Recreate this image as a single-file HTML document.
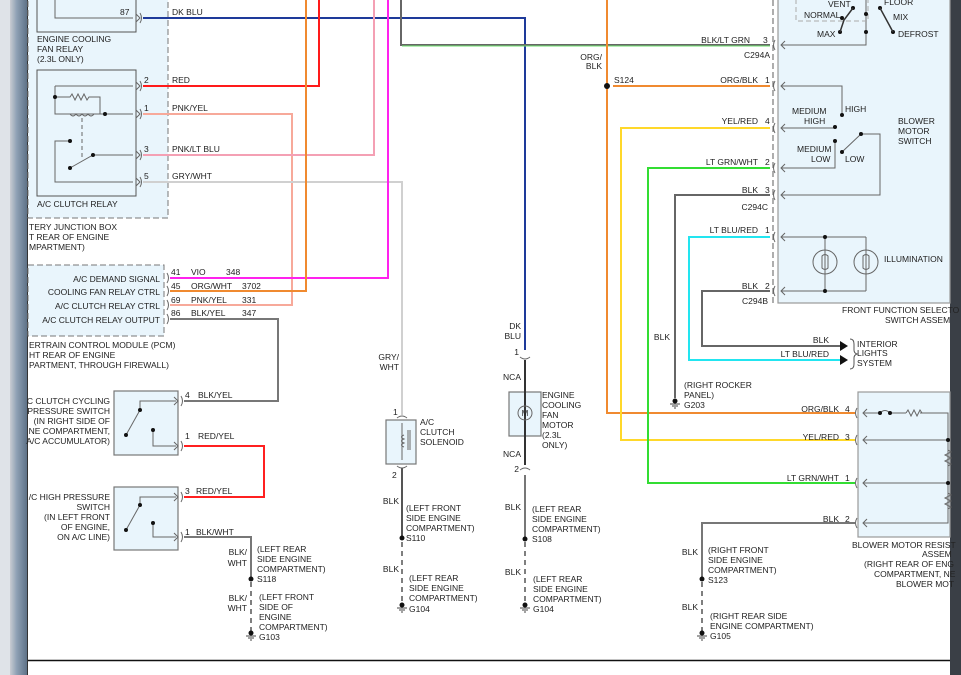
<!DOCTYPE html>
<html><head><meta charset="utf-8"><style>
html,body{margin:0;padding:0;background:#fff;}
svg{display:block;font-family:"Liberation Sans",Arial,sans-serif;font-size:8.5px;}
text{fill:#222;}
</style></head><body>
<svg width="961" height="675" viewBox="0 0 961 675" xmlns="http://www.w3.org/2000/svg">
<defs>
<linearGradient id="lb" x1="0" x2="1"><stop offset="0" stop-color="#c8ccd2"/><stop offset="0.4" stop-color="#8ea0b4"/><stop offset="1" stop-color="#5e7288"/></linearGradient>
</defs>
<rect width="961" height="675" fill="#fff"/>
<rect x="0" y="0" width="12" height="675" fill="#dfe3e8"/>
<rect x="10" y="0" width="17" height="675" fill="url(#lb)"/>
<line x1="27.5" y1="0" x2="27.5" y2="675" stroke="#333" stroke-width="1"/>
<rect x="950" y="0" width="11" height="675" fill="#3a3f46"/>
<line x1="28" y1="660.5" x2="950" y2="660.5" stroke="#111" stroke-width="1.5"/>

<rect x="28" y="-2" width="140" height="220" fill="#e9f5fc" stroke="#777" stroke-dasharray="6,3"/>
<rect x="37" y="-2" width="99" height="34" fill="#e9f5fc" stroke="#555"/>
<rect x="37" y="70" width="99" height="126" fill="#e9f5fc" stroke="#555"/>
<rect x="28" y="265" width="136" height="71" fill="#e9f5fc" stroke="#777" stroke-dasharray="6,3"/>
<rect x="114" y="391" width="64" height="64" fill="#e9f5fc" stroke="#777" stroke-width="1.2"/>
<rect x="114" y="487" width="64" height="63" fill="#e9f5fc" stroke="#777" stroke-width="1.2"/>
<rect x="386" y="420" width="30" height="44" fill="#e9f5fc" stroke="#777" stroke-width="1.2"/>
<rect x="509" y="392" width="32" height="44" fill="#e9f5fc" stroke="#777" stroke-width="1.2"/>
<rect x="778" y="-2" width="172" height="305" fill="#e9f5fc" stroke="#999" stroke-width="1.2"/>
<rect x="858" y="392" width="92" height="145" fill="#e9f5fc" stroke="#999" stroke-width="1.2"/>
<line x1="773" y1="0" x2="773" y2="303" stroke="#777" stroke-dasharray="6,3" stroke-width="1.2"/>

<g fill="none" stroke-width="2">
<polyline points="143,18 525,18 525,350" stroke="#1e3a9a"/>
<polyline points="143,86 319,86 319,0" stroke="#ff1a1a"/>
<polyline points="143,114 292,114 292,305 170,305" stroke="#f7a99a"/>
<polyline points="143,155 374,155 374,0" stroke="#f4a0b4"/>
<polyline points="143,182 402,182 402,415" stroke="#d0d0d0"/>
<polyline points="170,278 388,278 388,0" stroke="#ff22ee"/>
<polyline points="170,291 306,291 306,0" stroke="#f08a30"/>
<polyline points="170,319 278,319 278,401 184,401" stroke="#777"/>
<polyline points="184,446 264,446 264,497 184,497" stroke="#ff2020"/>
<polyline points="184,537 251,537 251,579" stroke="#777"/>
<polyline points="401,0 401,45 770,45" stroke="#666"/>
<polyline points="402,46 770,46" stroke="#6de36d" stroke-width="1"/>
<polyline points="607,0 607,413 855,413" stroke="#f08a30"/>
<polyline points="613,86 770,86" stroke="#f08a30"/>
<polyline points="770,128 621,128 621,440 855,440" stroke="#ffd82a"/>
<polyline points="770,168 648,168 648,483 855,483" stroke="#33dd33"/>
<polyline points="770,195 675,195 675,398" stroke="#666"/>
<polyline points="770,237 689,237 689,360 840,360" stroke="#22e5f0"/>
<polyline points="770,291 702,291 702,346 840,346" stroke="#666"/>
<polyline points="855,523 702,523 702,580" stroke="#777"/>
<line x1="525" y1="360" x2="525" y2="465" stroke="#333"/>
<line x1="525" y1="475" x2="525" y2="540" stroke="#777"/>
<line x1="402" y1="468" x2="402" y2="540" stroke="#555"/>
</g>
<g fill="none" stroke="#555" stroke-width="1.5" stroke-dasharray="5,4">
<line x1="251" y1="582" x2="251" y2="632"/><line x1="402" y1="542" x2="402" y2="604"/>
<line x1="525" y1="542" x2="525" y2="604"/><line x1="702" y1="582" x2="702" y2="632"/>
</g>
<!-- connector symbols -->
<g fill="none" stroke="#666" stroke-width="1">
<path d="M140,13 q3,5 0,10 M140,81 q3,5 0,10 M140,109 q3,5 0,10 M140,150 q3,5 0,10 M140,177 q3,5 0,10"/>
<path d="M167,273 q3,5 0,10 M167,286 q3,5 0,10 M167,300 q3,5 0,10 M167,314 q3,5 0,10"/>
<path d="M181,396 q3,5 0,10 M181,441 q3,5 0,10 M181,492 q3,5 0,10 M181,532 q3,5 0,10"/>
<path d="M775,40 q-3,5 0,10 M775,81 q-3,5 0,10 M775,123 q-3,5 0,10 M775,163 q-3,5 0,10 M775,190 q-3,5 0,10 M775,232 q-3,5 0,10 M775,286 q-3,5 0,10"/>
<path d="M857,408 q-3,5 0,10 M857,435 q-3,5 0,10 M857,478 q-3,5 0,10 M857,518 q-3,5 0,10"/>
<path d="M397,418 q5,-4 10,0 M397,466 q5,4 10,0 M520,357 q5,4 10,0 M520,470 q5,-4 10,0"/>
<path d="M136,14 l4,4 -4,4 M136,82 l4,4 -4,4 M136,110 l4,4 -4,4 M136,151 l4,4 -4,4 M136,178 l4,4 -4,4"/>
<path d="M174,397 l4,4 -4,4 M174,442 l4,4 -4,4 M174,493 l4,4 -4,4 M174,533 l4,4 -4,4"/>
<path d="M785,41 l-4,4 4,4 M785,82 l-4,4 4,4 M785,124 l-4,4 4,4 M785,164 l-4,4 4,4 M785,191 l-4,4 4,4 M785,233 l-4,4 4,4 M785,287 l-4,4 4,4"/>
<path d="M867,409 l-4,4 4,4 M867,436 l-4,4 4,4 M867,479 l-4,4 4,4 M867,519 l-4,4 4,4"/>
</g>
<path d="M840,341 L848,346 L840,351Z M840,355 L848,360 L840,365Z" fill="#111"/>
<path d="M850,339 q4,0 4,5 v6 q0,3 3,4 q-3,1 -3,4 v6 q0,5 -4,5" fill="none" stroke="#555"/>

<g fill="#111">
<circle cx="607" cy="86" r="3"/><circle cx="251" cy="579" r="2.5"/><circle cx="402" cy="538" r="2.5"/>
<circle cx="525" cy="539" r="2.5"/><circle cx="702" cy="579" r="2.5"/>
<circle cx="251" cy="633" r="2.5"/><circle cx="402" cy="605" r="2.5"/><circle cx="525" cy="605" r="2.5"/>
<circle cx="675" cy="401" r="2.5"/><circle cx="702" cy="633" r="2.5"/>
</g>
<g stroke="#444" stroke-width="1">
<path d="M246,636h10M248,638h6M250,640h2M397,608h10M399,610h6M401,612h2M520,608h10M522,610h6M524,612h2M670,404h10M672,406h6M674,408h2M697,636h10M699,638h6M701,640h2"/>
</g>

<g fill="none" stroke="#666" stroke-width="1">
<polyline points="55,0 55,18 133,18"/>
<polyline points="55,86 133,86"/><polyline points="55,86 55,114 133,114"/>
<path d="M55,97 h15 l2,-3 l3,6 l3,-6 l3,6 l3,-6 l3,6 l2,-3 h11 v17"/>
<path d="M70,114 q3,4 6,0 q3,4 6,0 q3,4 6,0 q3,4 6,0"/>
<line x1="82" y1="118" x2="82" y2="160" stroke-dasharray="4,3"/>
<polyline points="70,141 55,141 55,182 133,182"/>
<polyline points="70,168 93,155 133,155"/>
<polyline points="140,410 140,401 176,401"/>
<polyline points="126,435 140,410"/><polyline points="153,430 153,446 176,446"/>
<polyline points="140,505 140,497 176,497"/>
<polyline points="126,530 140,505"/><polyline points="153,523 153,537 176,537"/>
<polyline points="781,45 866,45 866,0"/>
<polyline points="781,86 842,86 842,115"/><polyline points="781,128 835,128"/>
<polyline points="781,168 835,168 835,141"/><polyline points="842,152 861,134 880,134 880,195 781,195"/>
<polyline points="781,237 866,237"/><polyline points="781,291 866,291"/>
<line x1="825" y1="237" x2="825" y2="291"/><line x1="866" y1="237" x2="866" y2="291"/>
<circle cx="825" cy="262" r="12"/><circle cx="866" cy="262" r="12"/>
<path d="M822,256 q3,-3 6,0 v12 q-3,3 -6,0z M863,256 q3,-3 6,0 v12 q-3,3 -6,0z"/>
<rect x="796" y="-2" width="72" height="23" stroke="#aaa" stroke-dasharray="5,3"/>
<path d="M863,413 H880 M890,413 H906 M920,413 H948 V523 H863 M863,440 H948 M863,483 H948"/>
<path d="M880,413 q5,-5 10,0" /><path d="M906,413 l2,-3 3,6 3,-6 3,6 3,-6 2,3"/>
<path d="M948,450 l3,2 -6,3 6,3 -6,3 6,3 -3,2 M948,493 l3,2 -6,3 6,3 -6,3 6,3 -3,2"/>
<path d="M402,423 v37 M404,435 q-5,2 0,4 q-5,2 0,4 q-5,2 0,4 M408,430 v20 M410,430 v20"/>
<circle cx="525" cy="413" r="7"/>
</g>
<g fill="#111"><circle cx="55" cy="97" r="2"/><circle cx="105" cy="114" r="2"/><circle cx="70" cy="141" r="2"/><circle cx="93" cy="155" r="2"/><circle cx="70" cy="168" r="2"/>
<circle cx="140" cy="410" r="2"/><circle cx="126" cy="435" r="2"/><circle cx="153" cy="430" r="2"/>
<circle cx="140" cy="505" r="2"/><circle cx="126" cy="530" r="2"/><circle cx="153" cy="523" r="2"/>
<circle cx="842" cy="115" r="2"/><circle cx="835" cy="127" r="2"/><circle cx="835" cy="141" r="2"/><circle cx="842" cy="152" r="2"/><circle cx="861" cy="134" r="2"/>
<circle cx="866" cy="32" r="2"/><circle cx="866" cy="14" r="2"/><circle cx="842" cy="18" r="2"/><circle cx="853" cy="8" r="2"/><circle cx="880" cy="8" r="2"/><circle cx="893" cy="32" r="2"/><circle cx="840" cy="32" r="2"/>
<circle cx="825" cy="237" r="2"/><circle cx="825" cy="291" r="2"/><circle cx="880" cy="413" r="2"/><circle cx="890" cy="413" r="2"/><circle cx="948" cy="440" r="2"/><circle cx="948" cy="483" r="2"/>
</g>
<g stroke="#333" stroke-width="1.5" fill="none"><path d="M840,32 l4,-12 l9,-12 M880,8 l13,24"/></g>

<g>
<text x="120" y="15">87</text><text x="172" y="15">DK BLU</text>
<text x="37" y="42">ENGINE COOLING</text><text x="37" y="52">FAN RELAY</text><text x="37" y="62">(2.3L ONLY)</text>
<text x="144" y="83">2</text><text x="172" y="83">RED</text>
<text x="144" y="111">1</text><text x="172" y="111">PNK/YEL</text>
<text x="144" y="152">3</text><text x="172" y="152">PNK/LT BLU</text>
<text x="144" y="179">5</text><text x="172" y="179">GRY/WHT</text>
<text x="37" y="207">A/C CLUTCH RELAY</text>
<text x="29" y="230">TERY JUNCTION BOX</text><text x="29" y="240">T REAR OF ENGINE</text><text x="29" y="250">MPARTMENT)</text>
<text x="160" y="282" text-anchor="end">A/C DEMAND SIGNAL</text>
<text x="160" y="295" text-anchor="end">COOLING FAN RELAY CTRL</text>
<text x="160" y="309" text-anchor="end">A/C CLUTCH RELAY CTRL</text>
<text x="160" y="323" text-anchor="end">A/C CLUTCH RELAY OUTPUT</text>
<text x="171" y="275">41</text><text x="191" y="275">VIO</text><text x="226" y="275">348</text>
<text x="171" y="289">45</text><text x="191" y="289">ORG/WHT</text><text x="242" y="289">3702</text>
<text x="171" y="303">69</text><text x="191" y="303">PNK/YEL</text><text x="242" y="303">331</text>
<text x="171" y="316">86</text><text x="191" y="316">BLK/YEL</text><text x="242" y="316">347</text>
<text x="29" y="348">ERTRAIN CONTROL MODULE (PCM)</text><text x="29" y="358">HT REAR OF ENGINE</text><text x="29" y="368">PARTMENT, THROUGH FIREWALL)</text>
<text x="110" y="404" text-anchor="end">C CLUTCH CYCLING</text><text x="110" y="414" text-anchor="end">PRESSURE SWITCH</text><text x="110" y="424" text-anchor="end">(IN RIGHT SIDE OF</text><text x="110" y="434" text-anchor="end">NE COMPARTMENT,</text><text x="110" y="444" text-anchor="end">A/C ACCUMULATOR)</text>
<text x="185" y="398">4</text><text x="198" y="398">BLK/YEL</text>
<text x="185" y="439">1</text><text x="198" y="439">RED/YEL</text>
<text x="110" y="500" text-anchor="end">/C HIGH PRESSURE</text><text x="110" y="510" text-anchor="end">SWITCH</text><text x="110" y="520" text-anchor="end">(IN LEFT FRONT</text><text x="110" y="530" text-anchor="end">OF ENGINE,</text><text x="110" y="540" text-anchor="end">ON A/C LINE)</text>
<text x="185" y="494">3</text><text x="196" y="494">RED/YEL</text>
<text x="185" y="535">1</text><text x="196" y="535">BLK/WHT</text>
<text x="247" y="555" text-anchor="end">BLK/</text><text x="247" y="566" text-anchor="end">WHT</text>
<text x="257" y="552">(LEFT REAR</text><text x="257" y="562">SIDE ENGINE</text><text x="257" y="572">COMPARTMENT)</text><text x="257" y="582">S118</text>
<text x="247" y="601" text-anchor="end">BLK/</text><text x="247" y="611" text-anchor="end">WHT</text>
<text x="259" y="600">(LEFT FRONT</text><text x="259" y="610">SIDE OF</text><text x="259" y="620">ENGINE</text><text x="259" y="630">COMPARTMENT)</text><text x="259" y="640">G103</text>
<text x="399" y="360" text-anchor="end">GRY/</text><text x="399" y="370" text-anchor="end">WHT</text>
<text x="393" y="415">1</text><text x="392" y="478">2</text>
<text x="420" y="425">A/C</text><text x="420" y="435">CLUTCH</text><text x="420" y="445">SOLENOID</text>
<text x="399" y="504" text-anchor="end">BLK</text>
<text x="406" y="511">(LEFT FRONT</text><text x="406" y="521">SIDE ENGINE</text><text x="406" y="531">COMPARTMENT)</text><text x="406" y="541">S110</text>
<text x="399" y="572" text-anchor="end">BLK</text>
<text x="409" y="581">(LEFT REAR</text><text x="409" y="591">SIDE ENGINE</text><text x="409" y="601">COMPARTMENT)</text><text x="409" y="612">G104</text>
<text x="521" y="329" text-anchor="end">DK</text><text x="521" y="339" text-anchor="end">BLU</text>
<text x="519" y="355" text-anchor="end">1</text><text x="521" y="380" text-anchor="end">NCA</text>
<text x="521" y="457" text-anchor="end">NCA</text><text x="519" y="472" text-anchor="end">2</text>
<text x="525" y="416" text-anchor="middle" font-size="8">M</text>
<text x="542" y="398">ENGINE</text><text x="542" y="408">COOLING</text><text x="542" y="418">FAN</text><text x="542" y="428">MOTOR</text><text x="542" y="438">(2.3L</text><text x="542" y="448">ONLY)</text>
<text x="521" y="510" text-anchor="end">BLK</text>
<text x="532" y="512">(LEFT REAR</text><text x="532" y="522">SIDE ENGINE</text><text x="532" y="532">COMPARTMENT)</text><text x="532" y="542">S108</text>
<text x="521" y="575" text-anchor="end">BLK</text>
<text x="533" y="582">(LEFT REAR</text><text x="533" y="592">SIDE ENGINE</text><text x="533" y="602">COMPARTMENT)</text><text x="533" y="612">G104</text>
<text x="602" y="60" text-anchor="end">ORG/</text><text x="602" y="69" text-anchor="end">BLK</text>
<text x="614" y="83">S124</text>
<text x="750" y="43" text-anchor="end">BLK/LT GRN</text><text x="763" y="43">3</text><text x="770" y="58" text-anchor="end">C294A</text>
<text x="758" y="83" text-anchor="end">ORG/BLK</text><text x="765" y="83">1</text>
<text x="758" y="124" text-anchor="end">YEL/RED</text><text x="765" y="124">4</text>
<text x="758" y="165" text-anchor="end">LT GRN/WHT</text><text x="765" y="165">2</text>
<text x="758" y="193" text-anchor="end">BLK</text><text x="765" y="193">3</text><text x="768" y="210" text-anchor="end">C294C</text>
<text x="758" y="233" text-anchor="end">LT BLU/RED</text><text x="765" y="233">1</text>
<text x="758" y="289" text-anchor="end">BLK</text><text x="765" y="289">2</text><text x="768" y="304" text-anchor="end">C294B</text>
<text x="828" y="7">VENT</text><text x="804" y="18">NORMAL</text><text x="817" y="37">MAX</text>
<text x="884" y="5">FLOOR</text><text x="893" y="20">MIX</text><text x="898" y="37">DEFROST</text>
<text x="792" y="114">MEDIUM</text><text x="804" y="124">HIGH</text><text x="845" y="112">HIGH</text>
<text x="797" y="152">MEDIUM</text><text x="811" y="162">LOW</text><text x="845" y="162">LOW</text>
<text x="898" y="124">BLOWER</text><text x="898" y="134">MOTOR</text><text x="898" y="144">SWITCH</text>
<text x="884" y="262">ILLUMINATION</text>
<text x="842" y="313">FRONT FUNCTION SELECTO</text><text x="885" y="323">SWITCH ASSEM</text>
<text x="829" y="343" text-anchor="end">BLK</text><text x="829" y="357" text-anchor="end">LT BLU/RED</text>
<text x="857" y="347">INTERIOR</text><text x="857" y="356">LIGHTS</text><text x="857" y="366">SYSTEM</text>
<text x="670" y="340" text-anchor="end">BLK</text>
<text x="684" y="388">(RIGHT ROCKER</text><text x="684" y="398">PANEL)</text><text x="684" y="408">G203</text>
<text x="839" y="412" text-anchor="end">ORG/BLK</text><text x="845" y="412">4</text>
<text x="839" y="440" text-anchor="end">YEL/RED</text><text x="845" y="440">3</text>
<text x="839" y="481" text-anchor="end">LT GRN/WHT</text><text x="845" y="481">1</text>
<text x="839" y="522" text-anchor="end">BLK</text><text x="845" y="522">2</text>
<text x="852" y="548">BLOWER MOTOR RESIST</text><text x="922" y="557">ASSEM</text><text x="864" y="567">(RIGHT REAR OF ENG</text><text x="874" y="577">COMPARTMENT, NE</text><text x="896" y="587">BLOWER MOT</text>
<text x="698" y="555" text-anchor="end">BLK</text>
<text x="708" y="553">(RIGHT FRONT</text><text x="708" y="563">SIDE ENGINE</text><text x="708" y="573">COMPARTMENT)</text><text x="708" y="583">S123</text>
<text x="698" y="610" text-anchor="end">BLK</text>
<text x="710" y="619">(RIGHT REAR SIDE</text><text x="710" y="629">ENGINE COMPARTMENT)</text><text x="710" y="639">G105</text>
</g>
</svg>
</body></html>
